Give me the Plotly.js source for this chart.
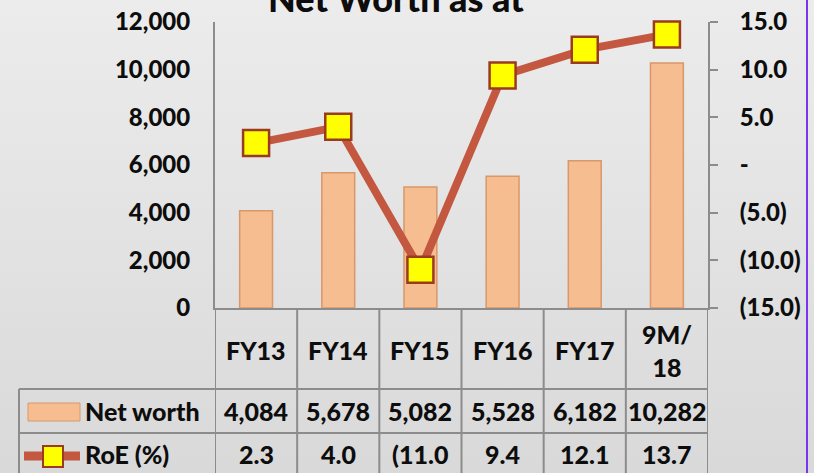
<!DOCTYPE html>
<html>
<head>
<meta charset="utf-8">
<script src="https://cdn.plot.ly/plotly-3.0.1.min.js"></script>
<style>
  html, body { margin:0; padding:0; }
  body { width:814px; height:473px; background: linear-gradient(#ececec, #d9d9d9); overflow:hidden; }
  #chart { width:814px; height:473px; }
</style>
</head>
<body>
<div id="chart"></div>
<script>
const categories = ['FY13','FY14','FY15','FY16','FY17','9M/18'];
const headerLabels = ['FY13','FY14','FY15','FY16','FY17','9M/<br>18'];
const netWorth = [4084, 5678, 5082, 5528, 6182, 10282];
const roe = [2.3, 4.0, -11.0, 9.4, 12.1, 13.7];
const roeLabels = ['2.3','4.0','(11.0','9.4','12.1','13.7'];
const leftTickVals = [0, 2000, 4000, 6000, 8000, 10000, 12000];
const rightTickVals = [-15, -10, -5, 0, 5, 10, 15];
const rightTickText = ['(15.0)','(10.0)','(5.0)','-','5.0','10.0','15.0'];
const seriesNames = ['Net worth', 'RoE (%)'];

const W = 814, H = 473;
const L = 215, R = 708, T = 22, B = 308;
const px = x => (x - L) / (R - L);
const py = y => (B - y) / (B - T);

const FONT = 'Lato, "Open Sans", sans-serif';
const BLACK = '#0d0d0d';
const GRID = '#8c8c8c';
const BAR = '#f6bd90';
const BAR_EDGE = '#d8986a';
const LINE = '#c4573f';
const TF = { family: FONT, size: 25, color: BLACK, weight: 900 };

const traces = [
  {
    type: 'bar', name: seriesNames[0], x: categories, y: netWorth,
    marker: { color: BAR, line: { color: BAR_EDGE, width: 1.5 } },
    hoverinfo: 'skip'
  },
  {
    type: 'scatter', mode: 'lines+markers', name: seriesNames[1], x: categories, y: roe, yaxis: 'y2',
    line: { color: LINE, width: 8 },
    marker: { symbol: 'square', size: 26, color: '#ffff00', line: { color: '#9a3b1f', width: 2.5 } },
    hoverinfo: 'skip', cliponaxis: false
  }
];

const shapes = [];
const annotations = [];

for (let i = 0; i <= categories.length; i++) {
  shapes.push({ type: 'line', xref: 'x', yref: 'paper', x0: i - 0.5, x1: i - 0.5, y0: 0, y1: py(H),
    line: { color: GRID, width: 2 } });
}
shapes.push({ type: 'line', xref: 'paper', yref: 'paper', x0: px(19), x1: px(19), y0: py(389), y1: py(H),
  line: { color: GRID, width: 2 } });
[389, 433].forEach(y => shapes.push({ type: 'line', xref: 'paper', yref: 'paper', x0: px(19), x1: 1, y0: py(y), y1: py(y),
  line: { color: GRID, width: 2 } }));
shapes.push({ type: 'line', xref: 'paper', yref: 'paper', x0: px(807), x1: px(807), y0: py(0), y1: py(H),
  line: { color: '#7b35f0', width: 2 } });
shapes.push({ type: 'rect', xref: 'paper', yref: 'paper', x0: px(28), x1: px(80), y0: py(421), y1: py(403),
  fillcolor: BAR, line: { color: BAR_EDGE, width: 1 } });
shapes.push({ type: 'line', xref: 'paper', yref: 'paper', x0: px(24), x1: px(80), y0: py(456), y1: py(456),
  line: { color: LINE, width: 9 } });
shapes.push({ type: 'rect', xref: 'paper', yref: 'paper', x0: px(43), x1: px(63), y0: py(467), y1: py(446),
  fillcolor: '#ffff00', line: { color: '#9a3b1f', width: 2 } });

annotations.push({ text: 'Net Worth as at', xref: 'paper', yref: 'paper', x: px(396), y: py(22),
  xanchor: 'center', yanchor: 'bottom', showarrow: false, font: { family: FONT, size: 36, color: BLACK, weight: 900 } });

categories.forEach((c, i) => {
  annotations.push({ text: headerLabels[i], xref: 'x', yref: 'paper', x: c, y: py(350),
    xanchor: 'center', yanchor: 'middle', showarrow: false, font: TF });
  annotations.push({ text: netWorth[i].toLocaleString('en-US'), xref: 'x', yref: 'paper', x: c, y: py(411),
    xanchor: 'center', yanchor: 'middle', showarrow: false, font: TF });
  annotations.push({ text: roeLabels[i], xref: 'x', yref: 'paper', x: c, y: py(454),
    xanchor: 'center', yanchor: 'middle', showarrow: false, font: TF });
});
annotations.push({ text: seriesNames[0], xref: 'paper', yref: 'paper', x: px(83), y: py(411),
  xanchor: 'left', yanchor: 'middle', showarrow: false, font: TF });
annotations.push({ text: seriesNames[1], xref: 'paper', yref: 'paper', x: px(83), y: py(454),
  xanchor: 'left', yanchor: 'middle', showarrow: false, font: TF });

const layout = {
  width: W, height: H,
  margin: { l: L, r: W - R, t: T, b: H - B, pad: 0 },
  paper_bgcolor: 'rgba(0,0,0,0)', plot_bgcolor: 'rgba(0,0,0,0)',
  showlegend: false,
  bargap: 0.6,
  font: { family: FONT, color: BLACK },
  xaxis: { type: 'category', range: [-0.5, categories.length - 0.5], showticklabels: false, ticks: '',
    showline: true, linecolor: GRID, linewidth: 2, showgrid: false, zeroline: false, fixedrange: true },
  yaxis: { range: [0, 12000], tickvals: leftTickVals, tickformat: ',', showgrid: false, zeroline: false,
    showline: true, linecolor: GRID, linewidth: 2, ticks: '', ticklabelstandoff: 18,
    tickfont: { family: FONT, size: 24, color: BLACK, weight: 900 }, fixedrange: true },
  yaxis2: { overlaying: 'y', side: 'right', range: [-15, 15], tickvals: rightTickVals, ticktext: rightTickText,
    showgrid: false, zeroline: false, showline: true, linecolor: GRID, linewidth: 2,
    ticks: 'outside', ticklen: 8, tickwidth: 2, tickcolor: GRID, ticklabelstandoff: 17,
    tickfont: { family: FONT, size: 24, color: BLACK, weight: 900 }, fixedrange: true },
  shapes: shapes,
  annotations: annotations
};

Plotly.newPlot('chart', traces, layout, { staticPlot: true, displayModeBar: false });
</script>
</body>
</html>
